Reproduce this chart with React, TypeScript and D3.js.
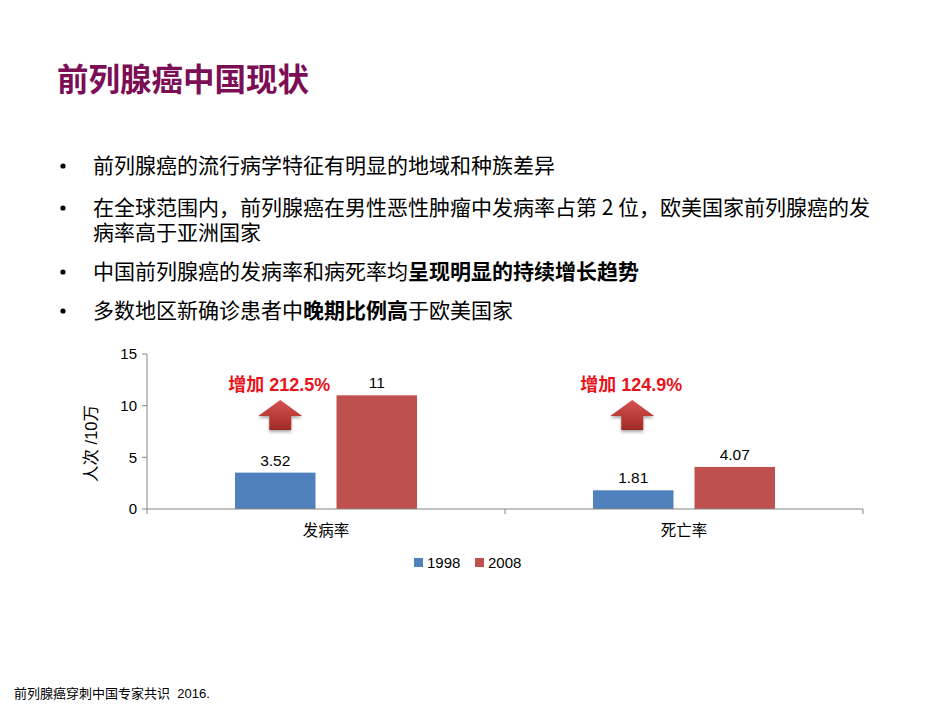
import * as d3 from 'd3';
import { useEffect, useRef } from 'react';

const categories = ['发病率', '死亡率'];
const years = ['1998', '2008'];
const values1998 = [3.52, 1.81];
const values2008 = [11, 4.07];
const valueLabels1998 = ['3.52', '1.81'];
const valueLabels2008 = ['11', '4.07'];
const increaseLabels = ['增加 212.5%', '增加 124.9%'];
const yTicks = [0, 5, 10, 15];

const FONT = '"Liberation Sans", Arial, "Noto Sans CJK SC", sans-serif';
const CJK = '"Noto Sans CJK SC", "Liberation Sans", sans-serif';

export default function App() {
  const svgRef = useRef(null);

  useEffect(() => {
    const svgElement = svgRef.current;
    if (!svgElement) return;
    d3.select(svgElement).selectAll('*').remove();

    const width = 950;
    const height = 713;
    const svg = d3.select(svgElement).attr('width', width).attr('height', height);

    svg.append('rect').attr('width', width).attr('height', height).attr('fill', '#fff');

    // Title
    svg
      .append('text')
      .attr('x', 57)
      .attr('y', 91)
      .attr('font-family', CJK)
      .attr('font-size', 31.5)
      .attr('font-weight', 'bold')
      .attr('fill', '#7B0E55')
      .text('前列腺癌中国现状');

    // Bullets (each bullet is one text, wrapped lines as tspans)
    const bullets: { y: number; lines: [string, boolean][][] }[] = [
      { y: 173, lines: [[['前列腺癌的流行病学特征有明显的地域和种族差异', false]]] },
      {
        y: 215,
        lines: [
          [['在全球范围内，前列腺癌在男性恶性肿瘤中发病率占第 2 位，欧美国家前列腺癌的发', false]],
          [['病率高于亚洲国家', false]],
        ],
      },
      { y: 279, lines: [[['中国前列腺癌的发病率和病死率均', false], ['呈现明显的持续增长趋势', true]]] },
      { y: 318, lines: [[['多数地区新确诊患者中', false], ['晚期比例高', true], ['于欧美国家', false]]] },
    ];
    bullets.forEach((b) => {
      svg.append('circle').attr('cx', 63).attr('cy', b.y - 7).attr('r', 2.6).attr('fill', '#000');
      const t = svg
        .append('text')
        .attr('x', 93)
        .attr('y', b.y)
        .attr('font-family', CJK)
        .attr('font-size', 21)
        .attr('fill', '#000');
      b.lines.forEach((parts, li) => {
        parts.forEach(([s, bold], pi) => {
          const ts = t.append('tspan').attr('font-weight', bold ? 'bold' : 'normal').text(s);
          if (li > 0 && pi === 0) ts.attr('x', 93).attr('dy', 25);
        });
      });
    });

    // Chart
    const left = 147;
    const right = 863;
    const top = 354;
    const bottom = 509;

    const y = d3.scaleLinear().domain([0, 15]).range([bottom, top]);
    const x0 = d3.scaleBand().domain(categories).range([left, right]).padding(0);
    const x1 = d3
      .scaleBand()
      .domain(years)
      .range([0, x0.bandwidth()])
      .paddingInner(0.207)
      .paddingOuter(0.867);
    const color = d3.scaleOrdinal<string>().domain(years).range(['#4F81BD', '#C0504D']);

    const axisColor = '#868686';

    // y axis
    svg.append('line').attr('x1', left).attr('x2', left).attr('y1', top).attr('y2', bottom).attr('stroke', axisColor);
    yTicks.forEach((t) => {
      svg.append('line').attr('x1', left - 5).attr('x2', left).attr('y1', y(t)).attr('y2', y(t)).attr('stroke', axisColor);
      svg
        .append('text')
        .attr('x', left - 10)
        .attr('y', y(t))
        .attr('dy', '0.35em')
        .attr('text-anchor', 'end')
        .attr('font-family', FONT)
        .attr('font-size', 15)
        .attr('fill', '#000')
        .text(t);
    });
    svg
      .append('text')
      .attr('transform', `translate(97,${(top + bottom) / 2 + 12}) rotate(-90)`)
      .attr('text-anchor', 'middle')
      .attr('font-family', FONT)
      .attr('font-size', 16.5)
      .attr('fill', '#000')
      .text('人次 /10万');

    const data = categories.map((c, i) => ({
      category: c,
      bars: [
        { year: years[0], value: values1998[i], label: valueLabels1998[i] },
        { year: years[1], value: values2008[i], label: valueLabels2008[i] },
      ],
    }));

    const groups = svg
      .selectAll('g.cat')
      .data(data)
      .join('g')
      .attr('class', 'cat')
      .attr('transform', (d) => `translate(${x0(d.category)},0)`);

    groups
      .selectAll('rect')
      .data((d) => d.bars)
      .join('rect')
      .attr('x', (d) => x1(d.year)!)
      .attr('y', (d) => y(d.value))
      .attr('width', x1.bandwidth())
      .attr('height', (d) => y(0) - y(d.value))
      .attr('fill', (d) => color(d.year));

    groups
      .selectAll('text.val')
      .data((d) => d.bars)
      .join('text')
      .attr('class', 'val')
      .attr('x', (d) => x1(d.year)! + x1.bandwidth() / 2)
      .attr('y', (d) => y(d.value) - 7)
      .attr('text-anchor', 'middle')
      .attr('font-family', FONT)
      .attr('font-size', 15.5)
      .attr('fill', '#000')
      .text((d) => d.label);

    // x axis
    svg.append('line').attr('x1', left).attr('x2', right).attr('y1', bottom).attr('y2', bottom).attr('stroke', axisColor).attr('stroke-width', 1.2);
    [left, x0(categories[1])!, right].forEach((tx) => {
      svg.append('line').attr('x1', tx).attr('x2', tx).attr('y1', bottom).attr('y2', bottom + 5).attr('stroke', axisColor);
    });
    categories.forEach((c) => {
      svg
        .append('text')
        .attr('x', x0(c)! + x0.bandwidth() / 2)
        .attr('y', 536)
        .attr('text-anchor', 'middle')
        .attr('font-family', CJK)
        .attr('font-size', 15.5)
        .attr('fill', '#000')
        .text(c);
    });

    // increase annotations
    const defs = svg.append('defs');
    const grad = defs.append('linearGradient').attr('id', 'arrowGrad').attr('x1', 0).attr('x2', 0).attr('y1', 0).attr('y2', 1);
    grad.append('stop').attr('offset', '0%').attr('stop-color', '#D9514E');
    grad.append('stop').attr('offset', '100%').attr('stop-color', '#9E2A26');
    const shadow = defs.append('filter').attr('id', 'arrowShadow').attr('x', '-30%').attr('y', '-30%').attr('width', '160%').attr('height', '160%');
    shadow.append('feDropShadow').attr('dx', 0).attr('dy', 2).attr('stdDeviation', 1.5).attr('flood-color', '#000').attr('flood-opacity', 0.35);

    const offsets = [5, -1];
    categories.forEach((c, i) => {
      const cx = x0(c)! + x1(years[0])! + x1.bandwidth() / 2 + offsets[i];
      const arrow = `M${cx},400 L${cx + 22},416 L${cx + 11},416 L${cx + 11},430 L${cx - 11},430 L${cx - 11},416 L${cx - 22},416 Z`;
      svg.append('path').attr('d', arrow).attr('fill', 'url(#arrowGrad)').attr('filter', 'url(#arrowShadow)');
      svg
        .append('text')
        .attr('x', cx - 1)
        .attr('y', 391)
        .attr('text-anchor', 'middle')
        .attr('font-family', FONT)
        .attr('font-size', 18)
        .attr('font-weight', 'bold')
        .attr('fill', '#E8141B')
        .text(increaseLabels[i]);
    });

    // legend
    const legendX = [414, 475];
    years.forEach((yr, i) => {
      svg.append('rect').attr('x', legendX[i]).attr('y', 558).attr('width', 9).attr('height', 9).attr('fill', color(yr));
      svg
        .append('text')
        .attr('x', legendX[i] + 13)
        .attr('y', 567.5)
        .attr('font-family', FONT)
        .attr('font-size', 15)
        .attr('fill', '#000')
        .text(yr);
    });

    // footnote
    svg
      .append('text')
      .attr('x', 14)
      .attr('y', 698)
      .attr('font-family', FONT)
      .attr('font-size', 13)
      .attr('fill', '#000')
      .style('white-space', 'pre')
      .text('前列腺癌穿刺中国专家共识  2016.');
  }, []);

  return <svg ref={svgRef} style={{ position: 'absolute', left: 0, top: 0 }} />;
}
